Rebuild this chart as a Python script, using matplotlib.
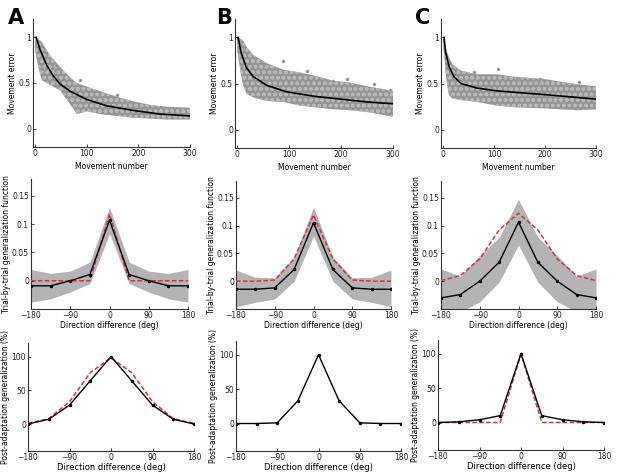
import matplotlib
matplotlib.use("Agg")
import matplotlib.pyplot as plt
import numpy as np

W, H = 617, 476

# ---- row 1: movement error vs movement number ----
fit_mov = {
    "A": [2, 10, 23, 35, 48, 68, 100, 139, 190, 242, 300],
    "B": [2, 8, 18, 31, 57, 95, 150, 200, 250, 300],
    "C": [2, 5, 12, 22, 35, 67, 106, 150, 198, 250, 300],
}
fit_err = {
    "A": [1.0, 0.86, 0.69, 0.58, 0.49, 0.41, 0.32, 0.25, 0.20, 0.16, 0.14],
    "B": [1.0, 0.83, 0.67, 0.575, 0.48, 0.41, 0.36, 0.33, 0.30, 0.28],
    "C": [1.0, 0.84, 0.68, 0.57, 0.50, 0.45, 0.42, 0.40, 0.38, 0.355, 0.33],
}
cloud_mov = {
    "A": [0, 6, 13, 29, 48, 61, 74, 81, 100, 126, 158, 190, 223, 255, 300],
    "B": [0, 8, 12, 18, 31, 57, 89, 121, 153, 185, 218, 250, 300],
    "C": [0, 5, 8, 12, 18, 35, 67, 106, 145, 198, 230, 265, 300],
}
cloud_lo = {
    "A": [0.86, 0.68, 0.53, 0.48, 0.42, 0.32, 0.22, 0.16, 0.19, 0.16, 0.14, 0.12, 0.11, 0.10, 0.10],
    "B": [0.87, 0.58, 0.48, 0.39, 0.35, 0.31, 0.30, 0.26, 0.24, 0.22, 0.21, 0.19, 0.14],
    "C": [0.95, 0.62, 0.48, 0.37, 0.34, 0.32, 0.30, 0.26, 0.24, 0.23, 0.22, 0.21, 0.22],
}
cloud_hi = {
    "A": [1.0, 0.98, 0.95, 0.80, 0.68, 0.60, 0.53, 0.50, 0.46, 0.41, 0.35, 0.30, 0.26, 0.24, 0.23],
    "B": [1.0, 0.98, 0.96, 0.90, 0.81, 0.72, 0.65, 0.62, 0.58, 0.53, 0.51, 0.47, 0.42],
    "C": [1.0, 0.90, 0.84, 0.78, 0.71, 0.64, 0.60, 0.60, 0.57, 0.55, 0.52, 0.49, 0.47],
}
outlier_mov = {
    "A": [87, 158, 40, 280],
    "B": [88, 134, 185, 211, 263, 295],
    "C": [108, 145, 190, 266, 60],
}
outlier_err = {
    "A": [0.53, 0.37, 0.70, 0.20],
    "B": [0.74, 0.64, 0.53, 0.55, 0.49, 0.43],
    "C": [0.66, 0.56, 0.55, 0.52, 0.62],
}

# ---- row 2: trial-by-trial generalization function ----
directions = [-180, -135, -90, -45, 0, 45, 90, 135, 180]
tbt_mean = {
    "A": [-0.009, -0.009, 0.0, 0.011, 0.107, 0.011, 0.0, -0.009, -0.009],
    "B": [-0.0145, -0.0145, -0.012, 0.021, 0.105, 0.021, -0.012, -0.0145, -0.0145],
    "C": [-0.030, -0.024, 0.0, 0.034, 0.106, 0.034, 0.0, -0.024, -0.030],
}
tbt_upper = {
    "A": [0.020, 0.013, 0.017, 0.033, 0.130, 0.033, 0.017, 0.013, 0.020],
    "B": [0.020, 0.007, 0.006, 0.043, 0.133, 0.043, 0.006, 0.007, 0.020],
    "C": [0.022, 0.009, 0.046, 0.079, 0.147, 0.079, 0.046, 0.009, 0.022],
}
tbt_lower = {
    "A": [-0.038, -0.032, -0.020, -0.005, 0.083, -0.005, -0.020, -0.032, -0.038],
    "B": [-0.046, -0.038, -0.032, 0.0, 0.081, 0.0, -0.032, -0.038, -0.046],
    "C": [-0.070, -0.055, -0.037, -0.002, 0.065, -0.002, -0.037, -0.055, -0.070],
}
tbt_model = {
    "A": [0.0, 0.0, 0.0, 0.0, 0.118, 0.0, 0.0, 0.0, 0.0],
    "B": [0.0, 0.0, 0.002, 0.040, 0.119, 0.040, 0.002, 0.0, 0.0],
    "C": [0.001, 0.010, 0.040, 0.092, 0.122, 0.092, 0.040, 0.010, 0.001],
}

# ---- row 3: post-adaptation generalization ----
post_data = {
    "A": [0, 7, 28, 64, 100, 64, 28, 7, 0],
    "B": [0, 0, 1, 33, 100, 33, 1, 0, 0],
    "C": [0, 1, 4, 10, 100, 10, 4, 1, 0],
}
post_model = {
    "A": [1, 8, 33, 76, 98, 76, 33, 8, 1],
    "B": None,
    "C": [0, 0, 0, 0, 100, 0, 0, 0, 0],
}

# pixel boxes (left, top, right, bottom)
boxes = {
    (0, "A"): (33, 19, 190, 147), (0, "B"): (235, 19, 393, 148), (0, "C"): (441, 19, 596, 148),
    (1, "A"): (31, 179, 188, 309), (1, "B"): (236, 181, 391, 309), (1, "C"): (441, 181, 596, 309),
    (2, "A"): (28, 343, 194, 451), (2, "B"): (236, 341, 401, 451), (2, "C"): (438, 340, 604, 450),
}
letter_pos = {"A": (8, 24), "B": (216, 24), "C": (415, 24)}

RED = "#d8303f"
FS = 5.5

fig = plt.figure(figsize=(W / 100, H / 100), dpi=100)


def make_ax(row, key):
    l, t, r, b = boxes[(row, key)]
    ax = fig.add_axes([l / W, 1 - b / H, (r - l) / W, (b - t) / H])
    for side in ("top", "right"):
        ax.spines[side].set_visible(False)
    for side in ("left", "bottom"):
        ax.spines[side].set_linewidth(0.8)
        ax.spines[side].set_color("#333333")
    ax.tick_params(direction="in", length=2, width=0.6, labelsize=FS, pad=1.5, colors="#222222")
    return ax


for key in ("A", "B", "C"):
    ax = make_ax(0, key)
    ax.fill_between(cloud_mov[key], cloud_lo[key], cloud_hi[key], facecolor="#959595",
                    edgecolor="#b8b8b8", hatch="ooo", linewidth=0.0)
    ax.scatter(outlier_mov[key], outlier_err[key], s=5, facecolor="#8e8e8e",
               edgecolor="#b0b0b0", linewidth=0.4, zorder=2)
    ax.plot(fit_mov[key], fit_err[key], color="black", lw=1.2, zorder=3)
    ax.set_xlim(-4, 300)
    ax.set_ylim(-0.2, 1.2)
    ax.set_xticks([0, 100, 200, 300])
    ax.set_yticks([0, 0.5, 1])
    ax.set_yticklabels(["0", "0.5", "1"])
    ax.set_ylabel("Movement error", fontsize=FS, labelpad=1)
    ax.set_xlabel("Movement number", fontsize=FS, labelpad=3)
    fig.text(letter_pos[key][0] / W, 1 - letter_pos[key][1] / H, key,
             fontsize=15, fontweight="bold")

    ax = make_ax(1, key)
    ax.fill_between(directions, tbt_lower[key], tbt_upper[key], color="#b4b4b4", linewidth=0)
    ax.plot(directions, tbt_model[key], color=RED, lw=1.1, ls=(0, (3, 1.5)), zorder=3)
    ax.plot(directions, tbt_mean[key], color="black", lw=1.0, marker="o", ms=1.5, zorder=4)
    ax.set_xlim(-180, 180)
    ax.set_ylim(-0.05, 0.18)
    ax.set_xticks([-180, -90, 0, 90, 180])
    ax.set_yticks([0, 0.05, 0.1, 0.15])
    ax.set_yticklabels(["0", "0.05", "0.1", "0.15"])
    ax.set_ylabel("Trial-by-trial generalization function", fontsize=FS, labelpad=1)
    ax.set_xlabel("Direction difference (deg)", fontsize=FS, labelpad=1)

    ax = make_ax(2, key)
    if post_model[key] is not None:
        ax.plot(directions, post_model[key], color=RED, lw=1.1, ls=(0, (3, 1.5)), zorder=3)
    ax.plot(directions, post_data[key], color="black", lw=1.0, marker="o", ms=1.5, zorder=4)
    ax.set_xlim(-180, 180)
    ax.set_ylim(-40, 120)
    ax.set_xticks([-180, -90, 0, 90, 180])
    ax.set_yticks([0, 50, 100])
    ax.set_ylabel("Post-adaptation generalization (%)", fontsize=FS, labelpad=1)
    ax.set_xlabel("Direction difference (deg)", fontsize=FS + 0.5, labelpad=1)

fig.savefig("out.png", dpi=100)
